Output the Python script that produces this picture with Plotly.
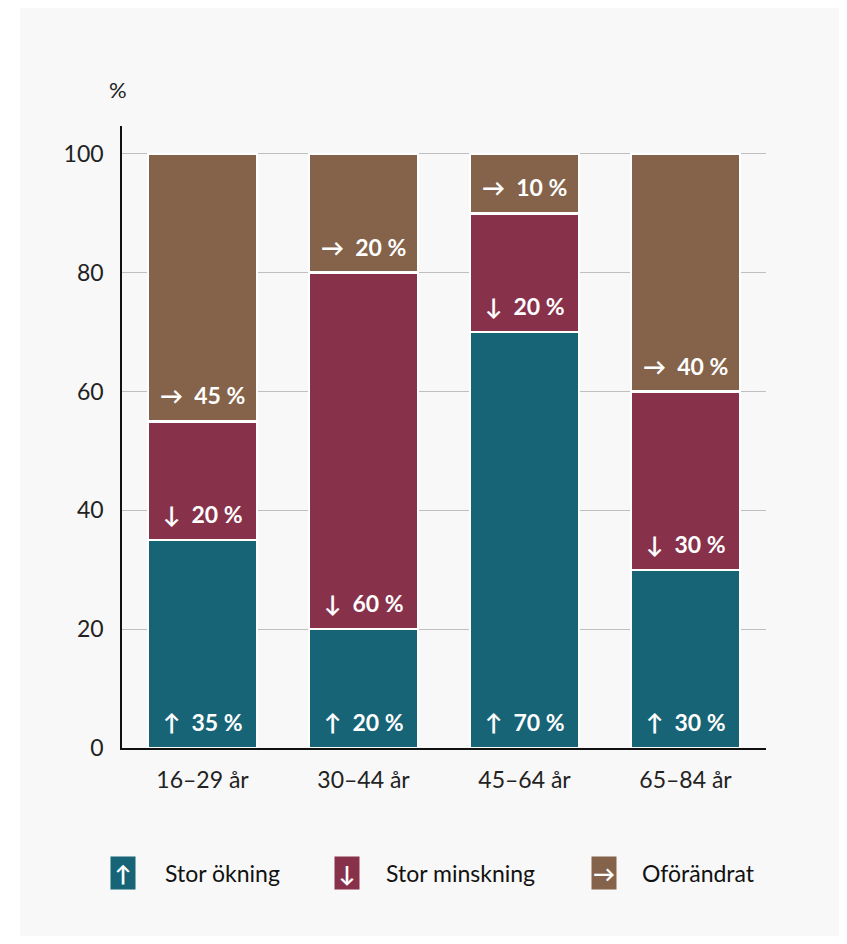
import plotly.graph_objects as go

categories = ["16–29 år", "30–44 år", "45–64 år", "65–84 år"]
stor_okning = [35, 20, 70, 30]
stor_minskning = [20, 60, 20, 30]
oforandrat = [45, 20, 10, 40]

series = [
    ("Stor ökning", "↑", stor_okning, "#176476"),
    ("Stor minskning", "↓", stor_minskning, "#87314a"),
    ("Oförändrat", "→", oforandrat, "#84634a"),
]

FONT = "Lato"
PANEL = "#f8f8f8"

fig = go.Figure()
for name, arrow, vals, color in series:
    fig.add_trace(go.Bar(
        x=categories,
        y=vals,
        name=name,
        marker_color=color,
        marker_line=dict(color="white", width=2.5),
        hoverinfo="skip",
    ))

# page has an 8px body margin, so the figure is 16px smaller than the window
FW, FH = 831, 928
L, R, T, B = 114, 73, 118, 188
W, H = FW - L - R, FH - T - B


def px_x(x):
    # x in window pixels -> paper coords
    return (x - 8 - L) / W


def px_y(y):
    return (FH - B - (y - 8)) / H


fig.add_shape(type="rect", xref="paper", yref="paper", layer="below",
              x0=px_x(20), x1=px_x(870), y0=px_y(960), y1=px_y(0),
              fillcolor=PANEL, line_width=0)

annotations = []

# segment labels, placed just above the bottom of each segment
base = [0] * len(categories)
for name, arrow, vals, color in series:
    for cat, b, v in zip(categories, base, vals):
        annotations.append(dict(
            x=cat, y=b, xref="x", yref="y", text=f"{arrow}  {v} %",
            showarrow=False, yanchor="middle", xanchor="center", yshift=26,
            font=dict(family=FONT, size=23, color="white", weight="bold"),
        ))
    base = [b + v for b, v in zip(base, vals)]

annotations.append(dict(text="%", xref="paper", yref="paper", x=px_x(118), y=px_y(90),
                        xanchor="center", yanchor="middle", showarrow=False,
                        font=dict(family=FONT, size=22, color="#222")))

legend_pos = [(123, 163), (347, 384), (604, 640)]
for (name, arrow, _, color), (sx, tx) in zip(series, legend_pos):
    annotations.append(dict(text=arrow, xref="paper", yref="paper", x=px_x(sx), y=px_y(873),
                            xanchor="center", yanchor="middle",
                            showarrow=False, bgcolor=color, width=24, height=32, borderpad=0,
                            font=dict(family=FONT, size=22, color="white", weight="bold")))
    annotations.append(dict(text=name, xref="paper", yref="paper", x=px_x(tx), y=px_y(873),
                            xanchor="left", yanchor="middle", showarrow=False,
                            font=dict(family=FONT, size=23, color="#111")))

fig.update_layout(
    width=FW,
    height=FH,
    barmode="stack",
    bargap=0.323,
    showlegend=False,
    paper_bgcolor="white",
    plot_bgcolor=PANEL,
    margin=dict(l=L, r=R, t=T, b=B),
    font=dict(family=FONT, size=23, color="#222"),
    annotations=annotations,
    xaxis=dict(showline=True, linecolor="#111", linewidth=1.5, ticks="",
               ticklabelstandoff=11, tickfont=dict(size=23, color="#222")),
    yaxis=dict(range=[0, 104.7], tickvals=[0, 20, 40, 60, 80, 100], showgrid=True,
               gridcolor="#bfbfbf", gridwidth=1.2, zeroline=False, showline=True,
               linecolor="#111", linewidth=1.5, ticks="", ticklabelstandoff=12,
               tickfont=dict(size=23, color="#222")),
)

fig.write_html("out.html")
